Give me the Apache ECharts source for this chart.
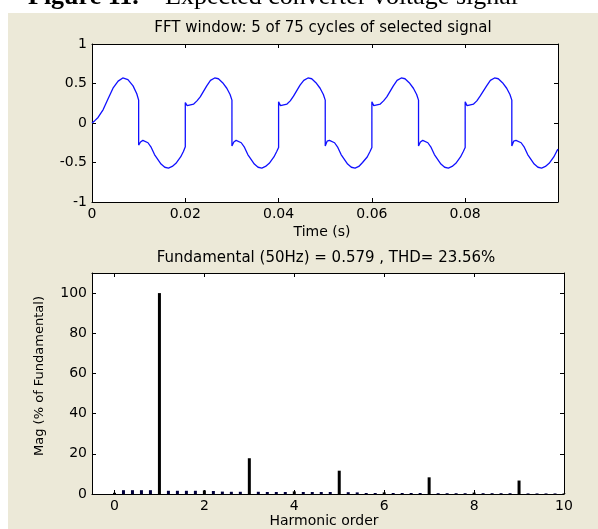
<!DOCTYPE html>
<html><head><meta charset="utf-8">
<script src="https://cdn.jsdelivr.net/npm/echarts@6/dist/echarts.min.js"></script>
<style>html,body{margin:0;padding:0;background:#fff}#c{width:598px;height:529px}</style>
</head><body><div id="c"></div>
<script>
// ---- Waveform (top panel) ----
const timeS = [
  0, 0.0006, 0.0013, 0.0024, 0.0034, 0.0045, 0.0056, 0.0066, 0.0077, 0.0088, 0.0096, 0.0100,
  0.0100, 0.0104, 0.0109, 0.0120, 0.0127, 0.0134, 0.0148, 0.0156, 0.0164, 0.0172, 0.0180, 0.0190, 0.0196, 0.0200,
  0.0200, 0.0204, 0.0208, 0.0218, 0.0225, 0.0232, 0.0246, 0.0254, 0.0263, 0.0271, 0.0280, 0.0289, 0.0296, 0.0300,
  0.0300, 0.0304, 0.0309, 0.0320, 0.0327, 0.0334, 0.0348, 0.0356, 0.0364, 0.0372, 0.0380, 0.0390, 0.0396, 0.0400,
  0.0400, 0.0404, 0.0408, 0.0418, 0.0425, 0.0432, 0.0446, 0.0454, 0.0463, 0.0471, 0.0480, 0.0489, 0.0496, 0.0500,
  0.0500, 0.0504, 0.0509, 0.0520, 0.0527, 0.0534, 0.0548, 0.0556, 0.0564, 0.0572, 0.0580, 0.0590, 0.0596, 0.0600,
  0.0600, 0.0604, 0.0608, 0.0618, 0.0625, 0.0632, 0.0646, 0.0654, 0.0663, 0.0671, 0.0680, 0.0689, 0.0696, 0.0700,
  0.0700, 0.0704, 0.0709, 0.0720, 0.0727, 0.0734, 0.0748, 0.0756, 0.0764, 0.0772, 0.0780, 0.0790, 0.0796, 0.0800,
  0.0800, 0.0804, 0.0808, 0.0818, 0.0825, 0.0832, 0.0846, 0.0854, 0.0863, 0.0871, 0.0880, 0.0889, 0.0896, 0.0900,
  0.0900, 0.0904, 0.0909, 0.0920, 0.0927, 0.0934, 0.0948, 0.0956, 0.0964, 0.0972, 0.0980, 0.0990, 0.0996, 0.0999
];
const voltage = [
  0, 0.03, 0.07, 0.17, 0.30, 0.44, 0.53, 0.57, 0.55, 0.47, 0.37, 0.29,
  -0.28, -0.24, -0.22, -0.25, -0.31, -0.40, -0.52, -0.56, -0.57, -0.55, -0.51, -0.43, -0.36, -0.30,
  0.26, 0.22, 0.21, 0.24, 0.28, 0.33, 0.47, 0.54, 0.57, 0.56, 0.51, 0.44, 0.36, 0.29,
  -0.29, -0.24, -0.22, -0.25, -0.31, -0.40, -0.52, -0.56, -0.57, -0.55, -0.51, -0.43, -0.36, -0.31,
  0.27, 0.22, 0.21, 0.24, 0.28, 0.34, 0.48, 0.54, 0.57, 0.56, 0.51, 0.44, 0.36, 0.29,
  -0.29, -0.23, -0.22, -0.25, -0.31, -0.40, -0.52, -0.56, -0.57, -0.55, -0.50, -0.43, -0.36, -0.31,
  0.27, 0.22, 0.21, 0.24, 0.28, 0.33, 0.47, 0.54, 0.57, 0.56, 0.51, 0.44, 0.36, 0.29,
  -0.29, -0.24, -0.22, -0.25, -0.31, -0.40, -0.52, -0.56, -0.57, -0.55, -0.51, -0.43, -0.36, -0.31,
  0.27, 0.22, 0.21, 0.24, 0.28, 0.34, 0.47, 0.54, 0.57, 0.56, 0.51, 0.44, 0.36, 0.29,
  -0.29, -0.23, -0.22, -0.25, -0.31, -0.40, -0.52, -0.56, -0.57, -0.55, -0.51, -0.43, -0.36, -0.33
];
const timeTicks = [0, 0.02, 0.04, 0.06, 0.08];
const voltTicks = [-1, -0.5, 0, 0.5, 1];

// ---- Spectrum (bottom panel) ----
const harmonicOrder = [
  0, 0.2, 0.4, 0.6, 0.8, 1, 1.2, 1.4, 1.6, 1.8, 2, 2.2, 2.4, 2.6, 2.8, 3, 3.2, 3.4, 3.6, 3.8,
  4, 4.2, 4.4, 4.6, 4.8, 5, 5.2, 5.4, 5.6, 5.8, 6, 6.2, 6.4, 6.6, 6.8, 7, 7.2, 7.4, 7.6, 7.8,
  8, 8.2, 8.4, 8.6, 8.8, 9, 9.2, 9.4, 9.6, 9.8, 10
];
const magnitude = [
  0.6, 1.9, 1.9, 1.9, 1.9, 100, 1.6, 1.6, 1.6, 1.6, 1.8, 1.5, 1.2, 1.1, 1.1, 17.8, 1.1, 1.0, 1.0, 1.0,
  1.3, 1.0, 1.0, 1.0, 1.0, 11.6, 0.9, 0.8, 0.5, 0.5, 0.8, 0.5, 0.5, 0.5, 0.5, 8.3, 0.4, 0.4, 0.4, 0.4,
  0.7, 0.4, 0.4, 0.4, 0.4, 6.7, 0.3, 0.3, 0.3, 0.3, 0.3
];
const orderTicks = [0, 2, 4, 6, 8, 10];
const magTicks = [0, 20, 40, 60, 80, 100];

const FONT = 'DejaVu Sans';
const lineData = timeS.map((t, i) => [t, voltage[i]]);
const barData = harmonicOrder.map((h, i) => {
  const isInt = Math.abs(h - Math.round(h)) < 1e-6;
  return { value: [h, magnitude[i]], itemStyle: { color: isInt ? '#000000' : '#00003c' } };
});

function mkAxis(gi, min, max, ticks, pos, labels) {
  return {
    type: 'value', gridIndex: gi, min: min, max: max, position: pos,
    axisLine: { show: true, onZero: false, lineStyle: { color: '#000', width: 1 } },
    axisTick: { show: true, inside: true, length: 4, customValues: ticks, lineStyle: { color: '#000' } },
    axisLabel: { show: labels, customValues: ticks, margin: 5, color: '#000', fontFamily: FONT, fontSize: 14 },
    splitLine: { show: false }
  };
}

const chart = echarts.init(document.getElementById('c'), null, { renderer: 'canvas' });
chart.setOption({
  animation: false,
  backgroundColor: '#ffffff',
  graphic: [
    { type: 'rect', z: -10, shape: { x: 8, y: 13, width: 590, height: 516 }, style: { fill: '#ece9d8' } },
    { type: 'text', x: 28, y: -3, style: { text: 'Figure 11.', fontWeight: 'bold',
        fontFamily: 'Liberation Serif', fontSize: 26, fill: '#000', verticalAlign: 'middle', align: 'left' } },
    { type: 'text', x: 165, y: -3, style: { text: 'Expected converter voltage signal',
        fontFamily: 'Liberation Serif', fontSize: 26, fill: '#000', verticalAlign: 'middle', align: 'left' } },
    { type: 'text', x: 323, y: 28, style: { text: 'FFT window: 5 of 75 cycles of selected signal',
        fontFamily: FONT, fontSize: 15, fill: '#000', align: 'center', verticalAlign: 'middle' } },
    { type: 'text', x: 322, y: 232, style: { text: 'Time (s)',
        fontFamily: FONT, fontSize: 14, fill: '#000', align: 'center', verticalAlign: 'middle' } },
    { type: 'text', x: 326, y: 258, style: { text: 'Fundamental (50Hz) = 0.579 , THD= 23.56%',
        fontFamily: FONT, fontSize: 15, fill: '#000', align: 'center', verticalAlign: 'middle' } },
    { type: 'text', x: 324, y: 521, style: { text: 'Harmonic order',
        fontFamily: FONT, fontSize: 14, fill: '#000', align: 'center', verticalAlign: 'middle' } },
    { type: 'text', x: 40, y: 376, rotation: Math.PI / 2, style: { text: 'Mag (% of Fundamental)',
        fontFamily: FONT, fontSize: 13, fill: '#000', align: 'center', verticalAlign: 'middle' } }
  ],
  grid: [
    { left: 92, top: 44, width: 466, height: 158, show: true, backgroundColor: '#ffffff', borderWidth: 0 },
    { left: 92, top: 273, width: 472, height: 221, show: true, backgroundColor: '#ffffff', borderWidth: 0 }
  ],
  xAxis: [
    mkAxis(0, 0, 0.0999, timeTicks, 'bottom', true),
    mkAxis(0, 0, 0.0999, timeTicks, 'top', false),
    mkAxis(1, -0.5, 10, orderTicks, 'bottom', true),
    mkAxis(1, -0.5, 10, orderTicks, 'top', false)
  ],
  yAxis: [
    mkAxis(0, -1, 1, voltTicks, 'left', true),
    mkAxis(0, -1, 1, voltTicks, 'right', false),
    mkAxis(1, 0, 110, magTicks, 'left', true),
    mkAxis(1, 0, 110, magTicks, 'right', false)
  ],
  series: [
    { type: 'line', xAxisIndex: 0, yAxisIndex: 0, data: lineData, showSymbol: false, symbol: 'none',
      lineStyle: { color: '#1010ff', width: 1.3 }, clip: true },
    { type: 'bar', xAxisIndex: 2, yAxisIndex: 2, data: barData, barWidth: 3 }
  ]
});
</script></body></html>
